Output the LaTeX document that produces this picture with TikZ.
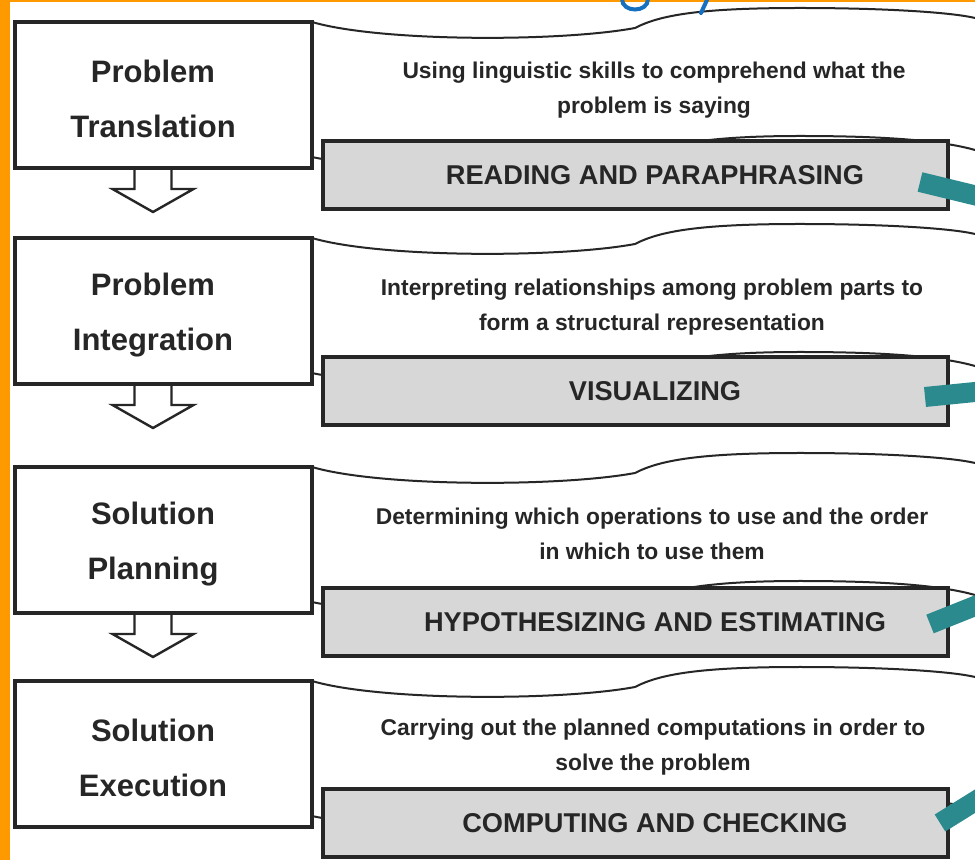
\documentclass[tikz,border=0pt]{standalone}
\usepackage{fontspec}
\setmainfont{Liberation Sans}
\usetikzlibrary{positioning}
\definecolor{ink}{RGB}{38,38,38}
\definecolor{skillgray}{RGB}{215,215,215}
\definecolor{frameorange}{RGB}{255,153,0}
\definecolor{markteal}{RGB}{42,138,142}
\definecolor{penblue}{RGB}{22,112,192}
\tikzset{
    %Define style for stage boxes
    stage/.style={
           rectangle,
           draw=ink, line width=1.6pt,
           fill=white,
           minimum width=148.5pt,
           minimum height=73pt,
           inner sep=0pt, outer sep=0pt},
    stagetext/.style={
           font=\fontsize{15.5}{27.5}\selectfont\bfseries,
           text=ink,
           align=center,
           xshift=-5.25pt, yshift=-2pt},
    %Define style for skill boxes
    skill/.style={
           rectangle,
           draw=ink, line width=2pt,
           fill=skillgray,
           minimum width=312.5pt,
           minimum height=34pt,
           inner sep=0pt, outer sep=0pt},
    skilltext/.style={
           font=\fontsize{13.6}{16}\selectfont\bfseries,
           text=ink,
           xshift=9.75pt},
    info/.style={
           font=\fontsize{11.4}{17.5}\selectfont\bfseries,
           text=ink,
           align=center},
    wave/.style={draw=ink, line width=1pt},
    marker/.style={draw=markteal, line width=10pt},
    pen/.style={draw=penblue, line width=2pt, line cap=round},
    % banner behind each skill box
    banner/.pic={
      \draw[wave] (0,0) .. controls (68,20) and (248,20) .. (323,6)
         .. controls (348,-7) and (388,-14) .. (488,-14)
         .. controls (568,-14) and (638,-10) .. (663,-4);
      \draw[wave] (0,135) .. controls (68,150) and (248,150) .. (323,138)
         .. controls (348,124) and (388,114) .. (488,114)
         .. controls (568,114) and (628,118) .. (663,128);
    },
    % hollow arrow between stages
    hollow/.pic={
      \draw[ink, line width=1.2pt, line join=miter]
        (-18.5,0) -- (-18.5,21) -- (-40.5,21) -- (0,44)
        -- (40.5,21) -- (18.5,21) -- (18.5,0);
    }
}
\begin{document}
\begin{tikzpicture}[x=0.5pt,y=-0.5pt]
 \clip (0,0) rectangle (975,860);
 \fill[white] (0,0) rectangle (975,860);

 %stages
 \node[stage, label={[stagetext]center:Problem\\Translation}] (p1) at (163.5,95) {};
 \node[stage, below=35pt of p1, label={[stagetext]center:Problem\\Integration}] (p2) {};
 \node[stage, below=41.5pt of p2, label={[stagetext]center:Solution\\Planning}] (p3) {};
 \node[stage, below=34pt of p3, label={[stagetext]center:Solution\\Execution}] (p4) {};

 %banners
 \pic at (p1.north east) {banner};
 \pic at (p2.north east) {banner};
 \pic at (p3.north east) {banner};
 \pic at (p4.north east) {banner};

 %skills
 \node[skill, anchor=north west, label={[skilltext]center:READING AND PARAPHRASING}]
   (s1) at ([shift={(11,119)}]p1.north east) {};
 \node[skill, anchor=north west, label={[skilltext]center:VISUALIZING}]
   (s2) at ([shift={(11,119)}]p2.north east) {};
 \node[skill, anchor=north west, label={[skilltext]center:HYPOTHESIZING AND ESTIMATING}]
   (s3) at ([shift={(11,121)}]p3.north east) {};
 \node[skill, anchor=north west, label={[skilltext]center:COMPUTING AND CHECKING}]
   (s4) at ([shift={(11,108)}]p4.north east) {};

 %descriptions
 \node[info] (d1) at ([shift={(342,68)}]p1.north east)
   {Using linguistic skills to comprehend what the\\problem is saying};
 \node[info] (d2) at ([shift={(340,69)}]p2.north east)
   {Interpreting relationships among problem parts to\\form a structural representation};
 \node[info] (d3) at ([shift={(340,67)}]p3.north east)
   {Determining which operations to use and the order\\in which to use them};
 \node[info] (d4) at ([shift={(341,66)}]p4.north east)
   {Carrying out the planned computations in order to\\solve the problem};

 %arrows
 \pic at ([xshift=-5.25pt]p1.south) {hollow};
 \pic at ([xshift=-5.25pt]p2.south) {hollow};
 \pic at ([xshift=-5.25pt]p3.south) {hollow};

 %marks on the slide
 \fill[frameorange] (0,0) rectangle (10,860);
 \fill[frameorange] (0,0) rectangle (975,2);
 \draw[pen] (622,-1) .. controls (622,13) and (648,13) .. (648,-1);
 \draw[pen] (707,0) -- (701,13);
 \draw[marker] ([shift={(-28,7)}]s1.east) -- ++(70,17);
 \draw[marker] ([shift={(-23,6)}]s2.east) -- ++(60,-6);
 \draw[marker] ([shift={(-18,2)}]s3.east) -- ++(55,-22);
 \draw[marker] ([shift={(-8,0)}]s4.east) -- ++(45,-28);
\end{tikzpicture}
\end{document}
